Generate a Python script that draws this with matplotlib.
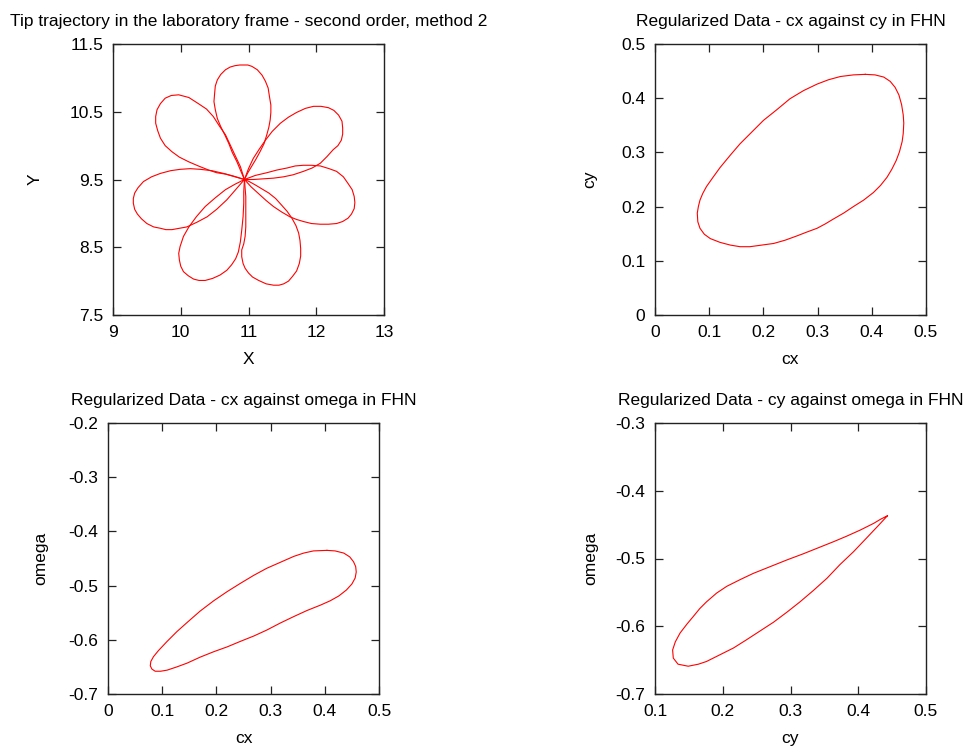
import matplotlib
matplotlib.use("Agg")
import matplotlib.pyplot as plt

plt.rcParams['font.family'] = ['Liberation Sans', 'DejaVu Sans']

# tip trajectory, one list of (x, y) per petal
petal_top = [(10.94, 9.50), (10.88, 9.64), (10.83, 9.76), (10.76, 9.90), (10.71, 10.03),
             (10.65, 10.16), (10.59, 10.28), (10.54, 10.40), (10.51, 10.53), (10.49, 10.65),
             (10.50, 10.77), (10.51, 10.88), (10.54, 10.97), (10.59, 11.05), (10.66, 11.12),
             (10.73, 11.16), (10.80, 11.18), (10.87, 11.19), (10.93, 11.19), (10.99, 11.19),
             (11.05, 11.17), (11.13, 11.12), (11.20, 11.04), (11.25, 10.95), (11.29, 10.85),
             (11.31, 10.72), (11.33, 10.60), (11.33, 10.49), (11.32, 10.38), (11.30, 10.27),
             (11.27, 10.16), (11.23, 10.03), (11.17, 9.91), (11.11, 9.80), (11.05, 9.70),
             (10.99, 9.60), (10.94, 9.50)]
petal_upper_right = [(10.94, 9.50), (11.00, 9.66), (11.07, 9.81), (11.16, 9.95), (11.25, 10.08),
                     (11.35, 10.21), (11.47, 10.33), (11.59, 10.42), (11.71, 10.49), (11.84, 10.55),
                     (11.96, 10.58), (12.07, 10.58), (12.18, 10.56), (12.26, 10.52), (12.33, 10.45),
                     (12.38, 10.36), (12.39, 10.26), (12.39, 10.17), (12.37, 10.08), (12.32, 10.00),
                     (12.25, 9.94), (12.16, 9.84), (12.06, 9.74), (11.94, 9.67), (11.81, 9.62),
                     (11.66, 9.57), (11.52, 9.54), (11.37, 9.52), (11.22, 9.51), (11.07, 9.50),
                     (10.94, 9.50)]
petal_right = [(10.94, 9.50), (11.10, 9.56), (11.27, 9.60), (11.42, 9.64), (11.57, 9.67),
               (11.69, 9.70), (11.81, 9.71), (11.93, 9.71), (12.06, 9.70), (12.19, 9.66),
               (12.30, 9.62), (12.40, 9.54), (12.47, 9.44), (12.53, 9.35), (12.56, 9.25),
               (12.57, 9.16), (12.56, 9.07), (12.52, 8.99), (12.47, 8.93), (12.39, 8.88),
               (12.30, 8.85), (12.18, 8.84), (12.06, 8.84), (11.93, 8.85), (11.81, 8.88),
               (11.71, 8.91), (11.61, 8.95), (11.49, 9.02), (11.37, 9.10), (11.26, 9.19),
               (11.15, 9.29), (11.04, 9.39), (10.94, 9.50)]
petal_bottom = [(10.94, 9.50), (10.95, 9.37), (10.96, 9.25), (10.96, 9.10), (10.96, 8.95),
                (10.96, 8.80), (10.95, 8.66), (10.93, 8.55), (10.90, 8.46), (10.90, 8.36),
                (10.92, 8.26), (10.95, 8.19), (11.00, 8.12), (11.06, 8.06), (11.15, 8.01),
                (11.26, 7.96), (11.37, 7.94), (11.45, 7.94), (11.52, 7.96), (11.59, 8.00),
                (11.65, 8.07), (11.71, 8.15), (11.75, 8.26), (11.77, 8.37), (11.77, 8.48),
                (11.76, 8.60), (11.74, 8.71), (11.70, 8.82), (11.64, 8.93), (11.57, 9.03),
                (11.49, 9.12), (11.40, 9.22), (11.30, 9.30), (11.20, 9.36), (11.10, 9.42),
                (11.01, 9.47), (10.94, 9.50)]
petal_lower_left = [(10.94, 9.50), (10.80, 9.43), (10.66, 9.35), (10.51, 9.23), (10.36, 9.10),
                    (10.23, 8.95), (10.12, 8.80), (10.04, 8.66), (9.99, 8.51), (9.97, 8.41),
                    (9.98, 8.31), (10.00, 8.22), (10.04, 8.14), (10.11, 8.08), (10.19, 8.03),
                    (10.27, 8.01), (10.36, 8.01), (10.47, 8.04), (10.58, 8.09), (10.68, 8.16),
                    (10.75, 8.24), (10.81, 8.33), (10.85, 8.43), (10.88, 8.58), (10.90, 8.75),
                    (10.92, 8.95), (10.93, 9.15), (10.93, 9.32), (10.94, 9.50)]
petal_left = [(10.94, 9.50), (10.78, 9.55), (10.63, 9.59), (10.46, 9.63), (10.29, 9.65),
              (10.14, 9.66), (9.99, 9.65), (9.85, 9.63), (9.70, 9.59), (9.57, 9.54),
              (9.45, 9.47), (9.37, 9.38), (9.32, 9.30), (9.30, 9.22), (9.30, 9.15),
              (9.32, 9.06), (9.36, 8.99), (9.42, 8.92), (9.50, 8.85), (9.60, 8.80),
              (9.70, 8.78), (9.78, 8.76), (9.87, 8.76), (9.98, 8.78), (10.09, 8.80),
              (10.24, 8.87), (10.39, 8.95), (10.53, 9.06), (10.68, 9.20), (10.81, 9.35),
              (10.94, 9.50)]
petal_upper_left = [(10.94, 9.50), (10.88, 9.69), (10.80, 9.86), (10.73, 10.01), (10.66, 10.16),
                    (10.57, 10.29), (10.48, 10.43), (10.38, 10.54), (10.26, 10.62), (10.12, 10.71),
                    (9.97, 10.75), (9.86, 10.74), (9.77, 10.70), (9.70, 10.62), (9.65, 10.53),
                    (9.63, 10.43), (9.63, 10.33), (9.66, 10.22), (9.70, 10.11), (9.77, 10.00),
                    (9.87, 9.91), (9.98, 9.83), (10.12, 9.76), (10.26, 9.70), (10.41, 9.64),
                    (10.53, 9.60), (10.66, 9.58), (10.80, 9.54), (10.94, 9.50)]
petals = [petal_top, petal_upper_right, petal_right, petal_bottom,
          petal_lower_left, petal_left, petal_upper_left]

# regularized data loops
cx_a = [0.388, 0.406, 0.422, 0.434, 0.443, 0.450, 0.455, 0.458, 0.459, 0.458, 0.456, 0.451,
        0.445, 0.437, 0.428, 0.416, 0.403, 0.385, 0.366, 0.348, 0.329, 0.314, 0.299, 0.280,
        0.262, 0.240, 0.219, 0.197, 0.175, 0.157, 0.139, 0.120, 0.102, 0.091, 0.083, 0.079,
        0.078, 0.080, 0.083, 0.088, 0.095, 0.107, 0.120, 0.139, 0.157, 0.179, 0.200, 0.225,
        0.249, 0.274, 0.299, 0.320, 0.342, 0.366, 0.388]
cy_a = [0.444, 0.443, 0.439, 0.431, 0.420, 0.406, 0.388, 0.369, 0.354, 0.335, 0.320, 0.301,
        0.285, 0.269, 0.254, 0.239, 0.226, 0.212, 0.200, 0.188, 0.177, 0.168, 0.160, 0.153,
        0.146, 0.138, 0.132, 0.129, 0.126, 0.126, 0.129, 0.134, 0.141, 0.149, 0.160, 0.172,
        0.188, 0.200, 0.212, 0.224, 0.237, 0.254, 0.272, 0.295, 0.316, 0.338, 0.359, 0.379,
        0.399, 0.414, 0.426, 0.434, 0.440, 0.443, 0.444]

cx_b = [0.404, 0.419, 0.435, 0.446, 0.453, 0.457, 0.458, 0.456, 0.450, 0.440, 0.426, 0.410,
        0.392, 0.367, 0.343, 0.318, 0.293, 0.269, 0.244, 0.220, 0.195, 0.170, 0.146, 0.127,
        0.109, 0.097, 0.087, 0.081, 0.078, 0.079, 0.084, 0.093, 0.109, 0.127, 0.146, 0.170,
        0.195, 0.220, 0.244, 0.269, 0.293, 0.318, 0.343, 0.361, 0.379, 0.404]
omega_b = [-0.435, -0.436, -0.440, -0.447, -0.456, -0.465, -0.475, -0.486, -0.497, -0.508,
           -0.519, -0.528, -0.536, -0.546, -0.557, -0.569, -0.582, -0.593, -0.603, -0.613,
           -0.622, -0.632, -0.643, -0.650, -0.656, -0.658, -0.658, -0.654, -0.648, -0.640,
           -0.631, -0.620, -0.603, -0.585, -0.568, -0.547, -0.528, -0.511, -0.496, -0.481,
           -0.468, -0.457, -0.446, -0.440, -0.436, -0.435]

cy_c = [0.443, 0.433, 0.423, 0.403, 0.383, 0.364, 0.344, 0.319, 0.295, 0.270, 0.245, 0.226,
        0.206, 0.191, 0.176, 0.166, 0.157, 0.147, 0.137, 0.130, 0.126, 0.127, 0.134, 0.149,
        0.164, 0.176, 0.196, 0.216, 0.235, 0.255, 0.275, 0.295, 0.314, 0.334, 0.354, 0.373,
        0.393, 0.413, 0.430, 0.443]
omega_c = [-0.437, -0.442, -0.448, -0.458, -0.467, -0.475, -0.483, -0.493, -0.502, -0.512,
           -0.522, -0.531, -0.541, -0.551, -0.564, -0.574, -0.585, -0.597, -0.610, -0.623,
           -0.635, -0.647, -0.656, -0.659, -0.656, -0.652, -0.642, -0.632, -0.620, -0.607,
           -0.594, -0.579, -0.564, -0.547, -0.529, -0.509, -0.490, -0.469, -0.451, -0.437]


def style(ax, title, xlabel, ylabel, xlim, ylim, xticks, yticks, ylab_x):
    ax.set_title(title, fontsize=12.5, pad=13)
    ax.set_xlabel(xlabel, fontsize=12.5, labelpad=9)
    ax.set_ylabel(ylabel, fontsize=12.5)
    ax.yaxis.set_label_coords(ylab_x, 0.5)
    ax.set_xlim(*xlim)
    ax.set_ylim(*ylim)
    ax.set_xticks(xticks)
    ax.set_yticks(yticks)
    ax.set_xticklabels([f"{t:g}" for t in xticks])
    ax.set_yticklabels([f"{t:g}" for t in yticks])
    ax.tick_params(direction='in', top=True, right=True, length=5.5, width=0.9,
                   labelsize=12.5, pad=7, color='#222222')
    for s in ax.spines.values():
        s.set_linewidth(1.0)
        s.set_color('#222222')


fig = plt.figure(figsize=(9.66, 7.48), dpi=100)
W, H = 966, 748
ax1 = fig.add_axes([113 / W, 1 - 315 / H, 271 / W, 271 / H])
ax2 = fig.add_axes([655 / W, 1 - 315 / H, 271 / W, 271 / H])
ax3 = fig.add_axes([108 / W, 1 - 694 / H, 271 / W, 271 / H])
ax4 = fig.add_axes([655 / W, 1 - 694 / H, 271 / W, 271 / H])

for p in petals:
    ax1.plot([q[0] for q in p], [q[1] for q in p], color='red', lw=0.8)
style(ax1, 'Tip trajectory in the laboratory frame - second order, method 2', 'X', 'Y',
      (9, 13), (7.5, 11.5), [9, 10, 11, 12, 13], [7.5, 8.5, 9.5, 10.5, 11.5], -0.258)

ax2.plot(cx_a, cy_a, color='red', lw=0.8)
style(ax2, 'Regularized Data - cx against cy in FHN', 'cx', 'cy',
      (0, 0.5), (0, 0.5), [0, 0.1, 0.2, 0.3, 0.4, 0.5], [0, 0.1, 0.2, 0.3, 0.4, 0.5], -0.214)

ax3.plot(cx_b, omega_b, color='red', lw=0.8)
style(ax3, 'Regularized Data - cx against omega in FHN', 'cx', 'omega',
      (0, 0.5), (-0.7, -0.2), [0, 0.1, 0.2, 0.3, 0.4, 0.5],
      [-0.7, -0.6, -0.5, -0.4, -0.3, -0.2], -0.221)

ax4.plot(cy_c, omega_c, color='red', lw=0.8)
style(ax4, 'Regularized Data - cy against omega in FHN', 'cy', 'omega',
      (0.1, 0.5), (-0.7, -0.3), [0.1, 0.2, 0.3, 0.4, 0.5],
      [-0.7, -0.6, -0.5, -0.4, -0.3], -0.21)

fig.savefig('out.png', dpi=100)
